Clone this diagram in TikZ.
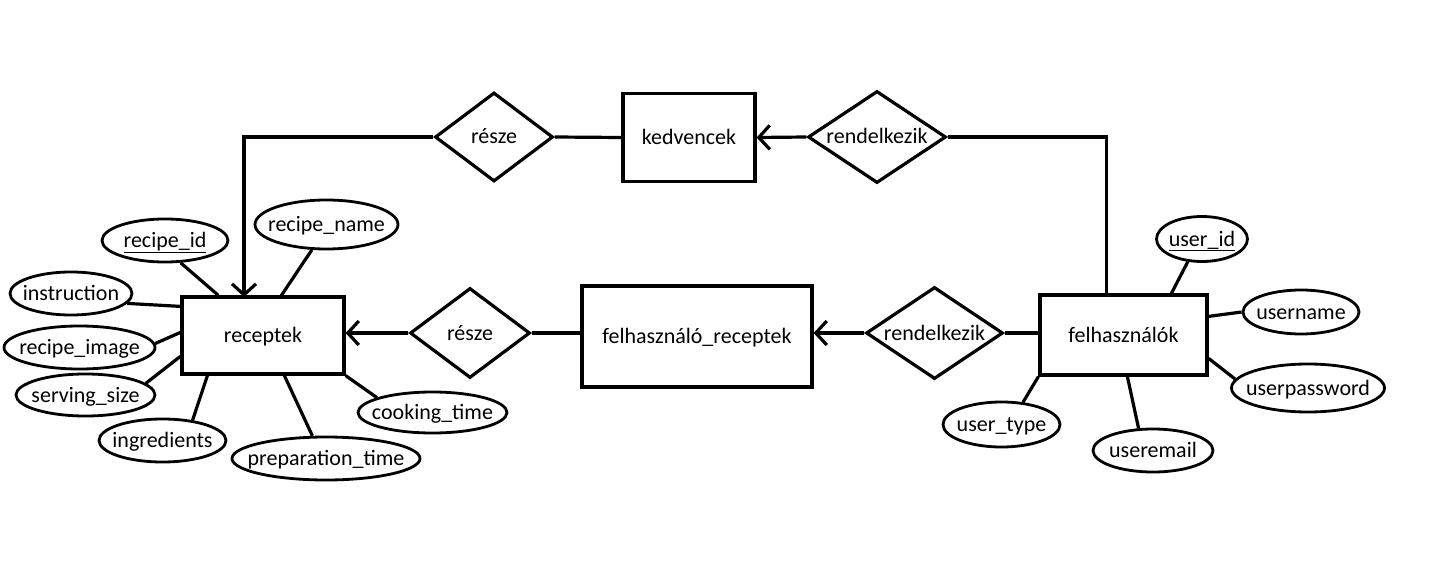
\documentclass[tikz,border=0pt]{standalone}
\usepackage{fontspec}
\setmainfont{Carlito}
\usetikzlibrary{shapes.geometric,arrows.meta,calc}
\begin{document}
\begin{tikzpicture}[x=1pt,y=-1pt,
  every node/.style={font=\fontsize{22}{26}\selectfont, inner sep=0pt, text height=17pt, text depth=3pt},
  ent/.style={draw, line width=3.2pt, rectangle},
  rel/.style={draw, line width=3.2pt, diamond},
  attr/.style={draw, line width=2.8pt, ellipse},
  lnk/.style={line width=3.2pt},
  arr/.style={line width=3.2pt, -{Straight Barb[length=11pt,width=24pt]}}
]
\useasboundingbox (0,0) rectangle (1440,564);
% entities
\node[ent, minimum width=162pt, minimum height=77pt] (rec) at (263,335.5) {receptek};
\node[ent, minimum width=132pt, minimum height=88pt] (kedv) at (689,137.5) {kedvencek};
\node[ent, minimum width=230pt, minimum height=101pt] (frec) at (697,336.5) {felhasználó\_receptek};
\node[ent, minimum width=167pt, minimum height=80pt] (felh) at (1123.5,335) {felhasználók};
% relations
\node[rel, minimum width=118pt, minimum height=89pt] (r1) at (494,137) {\makebox[0pt]{része}};
\node[rel, minimum width=138pt, minimum height=92pt] (rk1) at (877,137) {\makebox[0pt]{rendelkezik}};
\node[rel, minimum width=120pt, minimum height=90pt] (r2) at (470,333) {\makebox[0pt]{része}};
\node[rel, minimum width=137pt, minimum height=92pt] (rk2) at (934.5,333) {\makebox[0pt]{rendelkezik}};
% attributes receptek
\node[attr, minimum width=126pt, minimum height=43pt] (aid) at (165,240.5) {\makebox[0pt]{\underline{recipe\_id}}};
\node[attr, minimum width=143pt, minimum height=49pt] (aname) at (326.5,224.5) {\makebox[0pt]{recipe\_name}};
\node[attr, minimum width=122pt, minimum height=43pt] (ains) at (71,293.5) {\makebox[0pt]{instruction}};
\node[attr, minimum width=151pt, minimum height=43pt] (aimg) at (79.5,347.5) {\makebox[0pt]{recipe\_image}};
\node[attr, minimum width=139pt, minimum height=42pt] (aserv) at (85.5,395) {\makebox[0pt]{serving\_size}};
\node[attr, minimum width=127pt, minimum height=43pt] (aing) at (162.5,440.5) {\makebox[0pt]{ingredients}};
\node[attr, minimum width=188pt, minimum height=43pt] (aprep) at (326,458.5) {\makebox[0pt]{preparation\_time}};
\node[attr, minimum width=149pt, minimum height=41pt] (acook) at (432.5,412.5) {\makebox[0pt]{cooking\_time}};
% attributes felhasznalok
\node[attr, minimum width=91pt, minimum height=45pt] (uid) at (1202,239) {\makebox[0pt]{\underline{user\_id}}};
\node[attr, minimum width=116pt, minimum height=44pt] (uname) at (1301,312) {\makebox[0pt]{username}};
\node[attr, minimum width=153pt, minimum height=48pt] (upass) at (1308,388) {\makebox[0pt]{userpassword}};
\node[attr, minimum width=117pt, minimum height=45pt] (utype) at (1001.5,424.5) {\makebox[0pt]{user\_type}};
\node[attr, minimum width=120pt, minimum height=43pt] (umail) at (1153,450.5) {\makebox[0pt]{useremail}};
% coordinates
\coordinate (recTop) at (244,297);
\coordinate (felhTop) at (1106.5,295);
% relation connectors
\draw[arr] (r1.west) -| (recTop);
\draw[lnk] (r1.east) -- (kedv.west);
\draw[arr] (rk1.west) -- (kedv.east);
\draw[lnk] (rk1.east) -| (felhTop);
\draw[lnk] (felh.west |- rk2.east) -- (rk2.east);
\draw[arr] (rk2.west) -- (frec.east |- rk2.west);
\draw[lnk] (frec.west |- r2.east) -- (r2.east);
\draw[arr] (r2.west) -- (rec.east |- r2.west);
% attribute connectors receptek
\draw[lnk] (aid.-55) -- ($(rec.north west)+(38,0)$);
\draw[lnk] (aname.-120) -- ($(rec.north west)+(101,0)$);
\draw[lnk] (ains.-10) -- ($(rec.north west)+(0,11)$);
\draw[lnk] (aimg.3) -- ($(rec.north west)+(0,37)$);
\draw[lnk] (aserv.11) -- ($(rec.north west)+(0,61)$);
\draw[lnk] (aing.34) -- ($(rec.south west)+(27,0)$);
\draw[lnk] (aprep.121) -- ($(rec.south west)+(104,0)$);
\draw[lnk] (acook.165) -- (rec.south east);
% attribute connectors felhasznalok
\draw[lnk] (uid.-122) -- ($(felh.north west)+(133,0)$);
\draw[lnk] (uname.180) -- ($(felh.north east)+(0,23)$);
\draw[lnk] (upass.173) -- ($(felh.north east)+(0,65)$);
\draw[lnk] (utype.46) -- (felh.south west);
\draw[lnk] (umail.123) -- ($(felh.south west)+(89,0)$);
\end{tikzpicture}
\end{document}
